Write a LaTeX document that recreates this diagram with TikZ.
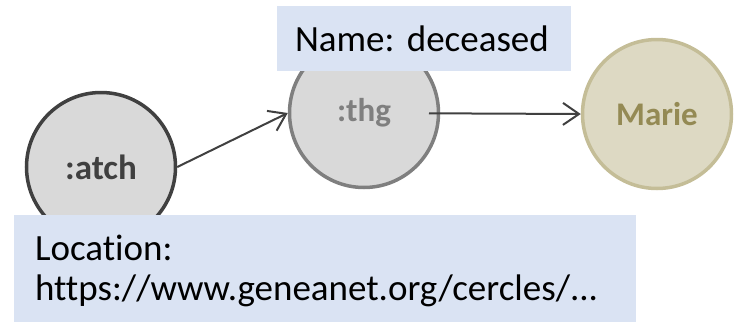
\documentclass[tikz,border=0pt]{standalone}
\usepackage{fontspec}
\setmainfont{Carlito}[Ligatures=NoCommon,WordSpace=0.7]
\usepackage{tikz}
\usetikzlibrary{positioning,arrows.meta}
\definecolor{notegray}{RGB}{217,217,217}
\definecolor{darkring}{RGB}{64,64,64}
\definecolor{midring}{RGB}{127,127,127}
\definecolor{personfill}{RGB}{221,217,195}
\definecolor{personring}{RGB}{196,189,151}
\definecolor{persontext}{RGB}{148,138,84}
\definecolor{propblue}{RGB}{218,227,243}
\frenchspacing

\begin{document}
\begin{tikzpicture}[
  x=1pt,y=-1pt,
  >={Straight Barb[length=16pt,width=22pt,line width=2pt]},
  resnode/.style={circle,line width=3.5pt,inner sep=0pt,minimum size=149pt,font=\fontsize{33}{38}\selectfont\bfseries},
  propbox/.style={fill=propblue,inner sep=0pt,font=\fontsize{37}{40}\selectfont},
  rel/.style={->,line width=2pt,darkring}
]
\useasboundingbox (0,0) rectangle (740,322);
% NODES: attachment, thing, person
\node[resnode,draw=darkring,fill=notegray,text=darkring,font=\fontsize{35}{40}\selectfont\bfseries] (atch) at (101,167) {:atch};
\node[resnode,draw=midring,fill=notegray,text=midring] (thg) at (364,113) {:thg};
\node[resnode,draw=personring,fill=personfill,text=persontext] (marie) at (657,114) {Marie};

% RELATIONS
\draw[rel] (atch.east) -- (thg.west);
\draw[rel,shorten <=65pt] (thg.center) -- (marie.west);

% PROPERTY BOXES
\node[propbox,minimum width=294pt,minimum height=65pt,text width=258pt,align=left] (namebox) at (424,38.5) {Name: deceased};
\node[propbox,minimum width=622pt,minimum height=107pt,text width=580pt,align=left,text depth=41pt] (locbox) at (325,268.5) {Location:\\https://www.geneanet.org/cercles/...};
\end{tikzpicture}
\end{document}
